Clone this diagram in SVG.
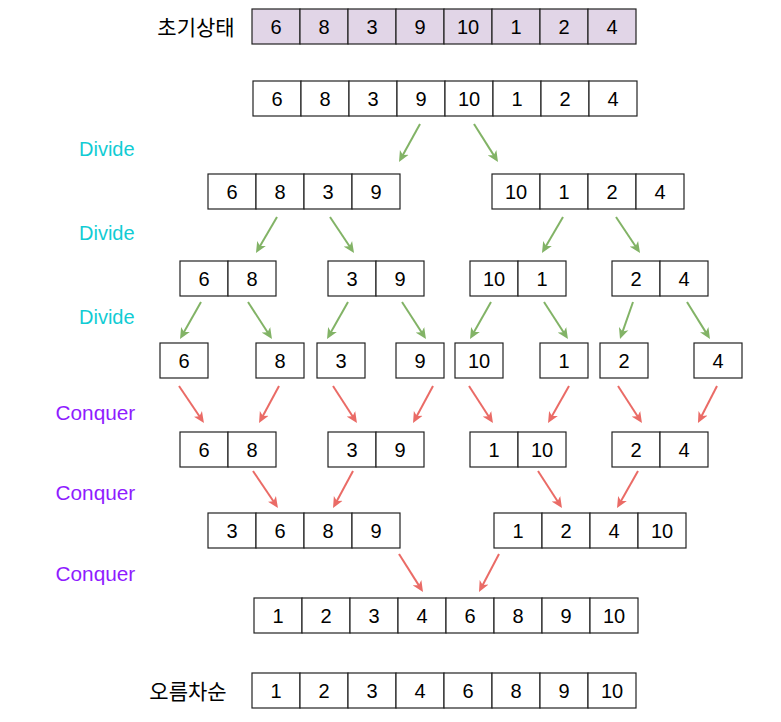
<svg xmlns="http://www.w3.org/2000/svg" width="781" height="722" viewBox="0 0 781 722">
<style>
.c{fill:#ffffff;stroke:#222222;stroke-width:1.2}
.p{fill:#e1d5e7;stroke:#222222;stroke-width:1.2}
.t{font-family:"Liberation Sans",Arial,sans-serif;font-size:20px;fill:#000000;text-anchor:middle}
.k{font-family:"Noto Sans CJK KR","Noto Sans",sans-serif;font-size:21px;fill:#000000;text-anchor:middle}
.dv{font-family:"Liberation Sans",Arial,sans-serif;font-size:20px;fill:#11CCD4}
.cq{font-family:"Liberation Sans",Arial,sans-serif;font-size:20.8px;fill:#8F1CFF}
.g{stroke:#82b366;stroke-width:2;fill:none;marker-end:url(#ag)}
.r{stroke:#ea6b66;stroke-width:2;fill:none;marker-end:url(#ar)}
</style>
<defs>
<marker id="ag" markerUnits="userSpaceOnUse" markerWidth="12" markerHeight="11" refX="5" refY="5" orient="auto" viewBox="0 0 12 10">
<path d="M0,0 L11,5 L0,10 L3,5 z" fill="#82b366"/>
</marker>
<marker id="ar" markerUnits="userSpaceOnUse" markerWidth="12" markerHeight="11" refX="5" refY="5" orient="auto" viewBox="0 0 12 10">
<path d="M0,0 L11,5 L0,10 L3,5 z" fill="#ea6b66"/>
</marker>
</defs>
<rect width="781" height="722" fill="#ffffff"/>

<g id="labels">
<text class="k" x="196" y="35">초기상태</text>
<text class="k" x="188" y="698.5">오름차순</text>
<text class="dv" x="79" y="156">Divide</text>
<text class="dv" x="79" y="239.5">Divide</text>
<text class="dv" x="79" y="323.5">Divide</text>
<text class="cq" x="55.5" y="420">Conquer</text>
<text class="cq" x="55.5" y="499.5">Conquer</text>
<text class="cq" x="55.5" y="580.5">Conquer</text>
</g>

<g id="initial">
<rect class="p" x="252" y="9" width="48" height="35"/><rect class="p" x="300" y="9" width="48" height="35"/><rect class="p" x="348" y="9" width="48" height="35"/><rect class="p" x="396" y="9" width="48" height="35"/><rect class="p" x="444" y="9" width="48" height="35"/><rect class="p" x="492" y="9" width="48" height="35"/><rect class="p" x="540" y="9" width="48" height="35"/><rect class="p" x="588" y="9" width="48" height="35"/>
<text class="t" x="276" y="33.5">6</text><text class="t" x="324" y="33.5">8</text><text class="t" x="372" y="33.5">3</text><text class="t" x="420" y="33.5">9</text><text class="t" x="468" y="33.5">10</text><text class="t" x="516" y="33.5">1</text><text class="t" x="564" y="33.5">2</text><text class="t" x="612" y="33.5">4</text>
</g>

<g id="row2">
<rect class="c" x="253" y="81" width="48" height="35"/><rect class="c" x="301" y="81" width="48" height="35"/><rect class="c" x="349" y="81" width="48" height="35"/><rect class="c" x="397" y="81" width="48" height="35"/><rect class="c" x="445" y="81" width="48" height="35"/><rect class="c" x="493" y="81" width="48" height="35"/><rect class="c" x="541" y="81" width="48" height="35"/><rect class="c" x="589" y="81" width="48" height="35"/>
<text class="t" x="277" y="105.5">6</text><text class="t" x="325" y="105.5">8</text><text class="t" x="373" y="105.5">3</text><text class="t" x="421" y="105.5">9</text><text class="t" x="469" y="105.5">10</text><text class="t" x="517" y="105.5">1</text><text class="t" x="565" y="105.5">2</text><text class="t" x="613" y="105.5">4</text>
</g>

<g id="d1-left">
<rect class="c" x="208" y="174" width="48" height="35"/><rect class="c" x="256" y="174" width="48" height="35"/><rect class="c" x="304" y="174" width="48" height="35"/><rect class="c" x="352" y="174" width="48" height="35"/>
<text class="t" x="232" y="198.5">6</text><text class="t" x="280" y="198.5">8</text><text class="t" x="328" y="198.5">3</text><text class="t" x="376" y="198.5">9</text>
</g>
<g id="d1-right">
<rect class="c" x="492" y="174" width="48" height="35"/><rect class="c" x="540" y="174" width="48" height="35"/><rect class="c" x="588" y="174" width="48" height="35"/><rect class="c" x="636" y="174" width="48" height="35"/>
<text class="t" x="516" y="198.5">10</text><text class="t" x="564" y="198.5">1</text><text class="t" x="612" y="198.5">2</text><text class="t" x="660" y="198.5">4</text>
</g>

<g id="d2-68">
<rect class="c" x="180" y="261" width="48" height="35"/><rect class="c" x="228" y="261" width="48" height="35"/>
<text class="t" x="204" y="285.5">6</text><text class="t" x="252" y="285.5">8</text>
</g>
<g id="d2-39">
<rect class="c" x="328" y="261" width="48" height="35"/><rect class="c" x="376" y="261" width="48" height="35"/>
<text class="t" x="352" y="285.5">3</text><text class="t" x="400" y="285.5">9</text>
</g>
<g id="d2-101">
<rect class="c" x="470" y="261" width="48" height="35"/><rect class="c" x="518" y="261" width="48" height="35"/>
<text class="t" x="494" y="285.5">10</text><text class="t" x="542" y="285.5">1</text>
</g>
<g id="d2-24">
<rect class="c" x="612" y="261" width="48" height="35"/><rect class="c" x="660" y="261" width="48" height="35"/>
<text class="t" x="636" y="285.5">2</text><text class="t" x="684" y="285.5">4</text>
</g>

<g id="s-6"><rect class="c" x="160" y="343" width="48" height="35"/><text class="t" x="184" y="367.5">6</text></g>
<g id="s-8"><rect class="c" x="256" y="343" width="48" height="35"/><text class="t" x="280" y="367.5">8</text></g>
<g id="s-3"><rect class="c" x="317" y="343" width="48" height="35"/><text class="t" x="341" y="367.5">3</text></g>
<g id="s-9"><rect class="c" x="396" y="343" width="48" height="35"/><text class="t" x="420" y="367.5">9</text></g>
<g id="s-10"><rect class="c" x="455" y="343" width="48" height="35"/><text class="t" x="479" y="367.5">10</text></g>
<g id="s-1"><rect class="c" x="540" y="343" width="48" height="35"/><text class="t" x="564" y="367.5">1</text></g>
<g id="s-2"><rect class="c" x="600" y="343" width="48" height="35"/><text class="t" x="624" y="367.5">2</text></g>
<g id="s-4"><rect class="c" x="694" y="343" width="48" height="35"/><text class="t" x="718" y="367.5">4</text></g>

<g id="c1-68">
<rect class="c" x="180" y="432" width="48" height="35"/><rect class="c" x="228" y="432" width="48" height="35"/>
<text class="t" x="204" y="456.5">6</text><text class="t" x="252" y="456.5">8</text>
</g>
<g id="c1-39">
<rect class="c" x="328" y="432" width="48" height="35"/><rect class="c" x="376" y="432" width="48" height="35"/>
<text class="t" x="352" y="456.5">3</text><text class="t" x="400" y="456.5">9</text>
</g>
<g id="c1-110">
<rect class="c" x="470" y="432" width="48" height="35"/><rect class="c" x="518" y="432" width="48" height="35"/>
<text class="t" x="494" y="456.5">1</text><text class="t" x="542" y="456.5">10</text>
</g>
<g id="c1-24">
<rect class="c" x="612" y="432" width="48" height="35"/><rect class="c" x="660" y="432" width="48" height="35"/>
<text class="t" x="636" y="456.5">2</text><text class="t" x="684" y="456.5">4</text>
</g>

<g id="c2-left">
<rect class="c" x="208" y="513" width="48" height="35"/><rect class="c" x="256" y="513" width="48" height="35"/><rect class="c" x="304" y="513" width="48" height="35"/><rect class="c" x="352" y="513" width="48" height="35"/>
<text class="t" x="232" y="537.5">3</text><text class="t" x="280" y="537.5">6</text><text class="t" x="328" y="537.5">8</text><text class="t" x="376" y="537.5">9</text>
</g>
<g id="c2-right">
<rect class="c" x="494" y="513" width="48" height="35"/><rect class="c" x="542" y="513" width="48" height="35"/><rect class="c" x="590" y="513" width="48" height="35"/><rect class="c" x="638" y="513" width="48" height="35"/>
<text class="t" x="518" y="537.5">1</text><text class="t" x="566" y="537.5">2</text><text class="t" x="614" y="537.5">4</text><text class="t" x="662" y="537.5">10</text>
</g>

<g id="c3">
<rect class="c" x="254" y="598" width="48" height="35"/><rect class="c" x="302" y="598" width="48" height="35"/><rect class="c" x="350" y="598" width="48" height="35"/><rect class="c" x="398" y="598" width="48" height="35"/><rect class="c" x="446" y="598" width="48" height="35"/><rect class="c" x="494" y="598" width="48" height="35"/><rect class="c" x="542" y="598" width="48" height="35"/><rect class="c" x="590" y="598" width="48" height="35"/>
<text class="t" x="278" y="622.5">1</text><text class="t" x="326" y="622.5">2</text><text class="t" x="374" y="622.5">3</text><text class="t" x="422" y="622.5">4</text><text class="t" x="470" y="622.5">6</text><text class="t" x="518" y="622.5">8</text><text class="t" x="566" y="622.5">9</text><text class="t" x="614" y="622.5">10</text>
</g>

<g id="sorted">
<rect class="c" x="252" y="673" width="48" height="35"/><rect class="c" x="300" y="673" width="48" height="35"/><rect class="c" x="348" y="673" width="48" height="35"/><rect class="c" x="396" y="673" width="48" height="35"/><rect class="c" x="444" y="673" width="48" height="35"/><rect class="c" x="492" y="673" width="48" height="35"/><rect class="c" x="540" y="673" width="48" height="35"/><rect class="c" x="588" y="673" width="48" height="35"/>
<text class="t" x="276" y="697.5">1</text><text class="t" x="324" y="697.5">2</text><text class="t" x="372" y="697.5">3</text><text class="t" x="420" y="697.5">4</text><text class="t" x="468" y="697.5">6</text><text class="t" x="516" y="697.5">8</text><text class="t" x="564" y="697.5">9</text><text class="t" x="612" y="697.5">10</text>
</g>

<g id="connectors">
<line class="g" x1="420" y1="124" x2="401.9" y2="156.8"/>
<line class="g" x1="474" y1="124" x2="494.8" y2="156.9"/>
<line class="g" x1="277" y1="217" x2="259" y2="247.8"/>
<line class="g" x1="330" y1="217" x2="350.7" y2="248"/>
<line class="g" x1="563" y1="217" x2="545" y2="247.8"/>
<line class="g" x1="616" y1="217" x2="636.7" y2="248"/>
<line class="g" x1="201" y1="302" x2="183" y2="333.8"/>
<line class="g" x1="248" y1="302" x2="268.7" y2="334"/>
<line class="g" x1="348" y1="302" x2="330" y2="333.8"/>
<line class="g" x1="402" y1="302" x2="422.7" y2="334"/>
<line class="g" x1="491" y1="302" x2="473" y2="333.8"/>
<line class="g" x1="544" y1="302" x2="564.7" y2="334"/>
<line class="g" x1="633" y1="302" x2="622" y2="333.3"/>
<line class="g" x1="687" y1="302" x2="706.8" y2="333.9"/>
<line class="r" x1="179" y1="386" x2="200.6" y2="418"/>
<line class="r" x1="279" y1="386" x2="261.9" y2="417.7"/>
<line class="r" x1="333" y1="386" x2="353.7" y2="418"/>
<line class="r" x1="433" y1="386" x2="415.9" y2="417.7"/>
<line class="r" x1="469" y1="386" x2="489.7" y2="418"/>
<line class="r" x1="569" y1="386" x2="551" y2="417.8"/>
<line class="r" x1="618" y1="386" x2="638.7" y2="418"/>
<line class="r" x1="717" y1="386" x2="700.7" y2="417.7"/>
<line class="r" x1="253" y1="471" x2="274.6" y2="503"/>
<line class="r" x1="353" y1="471" x2="335.9" y2="502.7"/>
<line class="r" x1="538" y1="471" x2="558.7" y2="503"/>
<line class="r" x1="638" y1="471" x2="620" y2="502.8"/>
<line class="r" x1="399" y1="554" x2="419.8" y2="586.9"/>
<line class="r" x1="499" y1="554" x2="481.8" y2="586.7"/>
</g>
</svg>
